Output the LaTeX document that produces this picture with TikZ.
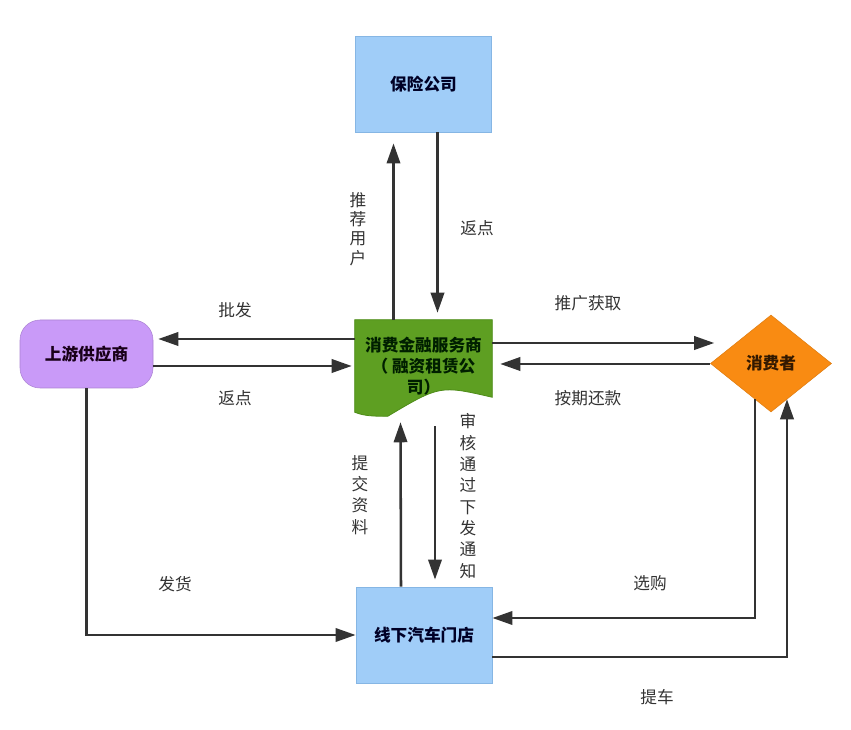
\documentclass[tikz,border=0pt]{standalone}
\usepackage{fontspec}
\setmainfont{Noto Sans CJK SC}
\usetikzlibrary{arrows.meta,shapes.geometric,calc}
\definecolor{boxblue}{HTML}{A0CDF8}
\definecolor{boxblueline}{HTML}{86B6E4}
\definecolor{docgreen}{HTML}{5E9F22}
\definecolor{docgreenline}{HTML}{4E8C18}
\definecolor{lav}{HTML}{C99AF8}
\definecolor{orng}{HTML}{F98B12}
\definecolor{arrowgray}{HTML}{333333}
\definecolor{labelgray}{HTML}{333333}
\tikzset{
  bluebox/.style={draw=boxblueline, line width=0.6pt, fill=boxblue, minimum width=136*0.75pt, minimum height=96*0.75pt, inner sep=0pt, font=\fontsize{12.5}{15}\selectfont\bfseries, text=black!85!blue},
  arr/.style={draw=arrowgray, line width=1.9pt, -{Triangle[length=15pt,width=10pt]}},
  lbl/.style={inner sep=0pt, text=labelgray, font=\fontsize{12.5}{15}\selectfont},
  vlbl/.style={inner sep=0pt, text=labelgray, align=center, font=\fontsize{12.5}{16}\selectfont},
}
\begin{document}
\begin{tikzpicture}[x=0.75pt,y=-0.75pt]
\fill[white] (0,0) rectangle (851,730);
\useasboundingbox (0,0) rectangle (851,730);

% nodes
\node[bluebox] (ins) at (423.5,84) {保险公司};
\node[bluebox] (shop) at (424,635) {线下汽车门店};
\node[draw=none, minimum width=137*0.75pt, minimum height=92*0.75pt, inner sep=0pt] (c) at (423.5,366) {};
\fill[docgreen, draw=docgreenline, line width=0.6pt]
  (c.north west) -- (c.north east) -- ($(c.south east)+(0,-15)$)
  .. controls ($(c.south east)+(-52,-27)$) and ($(c.south west)+(85,-27)$) .. ($(c.south west)+(33,4)$)
  .. controls ($(c.south west)+(20,4)$) and ($(c.south west)+(10,4)$) .. (c.south west) -- cycle;
\node[align=center, inner sep=0pt, font=\fontsize{12.5}{15.5}\selectfont\bfseries, text=black!80!green!60!black] (ctext) at ($(c.center)+(0,0)$) {消费金融服务商\\（ 融资租赁公\\司）};
\node[draw=lav!85!black, line width=0.4pt, fill=lav, rounded corners=15pt, minimum width=133*0.75pt, minimum height=68*0.75pt, inner sep=0pt, font=\fontsize{12.5}{15}\selectfont\bfseries, text=black!80!violet] (sup) at (86.5,354) {上游供应商};
\node[shape=diamond, fill=orng, draw=orng!90!black, line width=0.4pt, minimum width=121*0.75pt, minimum height=97*0.75pt, inner sep=0pt, font=\fontsize{12.5}{15}\selectfont\bfseries, text=black!80!orange] (con) at (771,363.5) {消费者};

% connectors
\draw[arr] ($(c.north)+(-30,0)$) -- ($(ins.south)+(-30,11)$);
\draw[arr] ($(ins.south)+(14,0)$) -- ($(c.north)+(14,-7)$);
\draw[arr] ($(c.west)+(0,-27)$) -- ($(sup.east)+(5,-15)$);
\draw[arr] ($(sup.east)+(0,12)$) -- ($(c.west)+(-3,0)$);
\draw[arr] ($(c.east)+(0,-23)$) -- ($(con.west)+(4,-20.5)$);
\draw[arr] ($(con.west)+(0,0.5)$) -- ($(c.east)+(8,-2)$);
\draw[arr] ($(shop.north)+(-23,0)$) -- ($(c.south)+(-23,10)$);
\draw[arr] ($(c.south)+(11.5,14)$) -- ($(shop.north)+(11,-7)$);
\draw[arr] (sup.south) |- (shop.west);
\draw[arr] ($(con.south)+(-16,-13)$) |- ($(shop.east)+(0,-17)$);
\draw[arr] ($(shop.east)+(0,22)$) -| ($(con.south)+(16,-13)$);

% labels
\node[vlbl, font=\fontsize{12.5}{14.5}\selectfont] (l1) at (358,229) {推\\荐\\用\\户};
\node[lbl] (l2) at (477,228) {返点};
\node[lbl] (l3) at (235,310) {批发};
\node[lbl] (l4) at (235,398) {返点};
\node[lbl] (l5) at (588,303) {推广获取};
\node[lbl] (l6) at (588,398) {按期还款};
\node[vlbl] (l7) at (360,495) {提\\交\\资\\料};
\node[vlbl] (l8) at (468,496) {审\\核\\通\\过\\下\\发\\通\\知};
\node[lbl] (l9) at (175,584) {发货};
\node[lbl] (l10) at (650,583) {选购};
\node[lbl] (l11) at (657,697) {提车};
\end{tikzpicture}
\end{document}
